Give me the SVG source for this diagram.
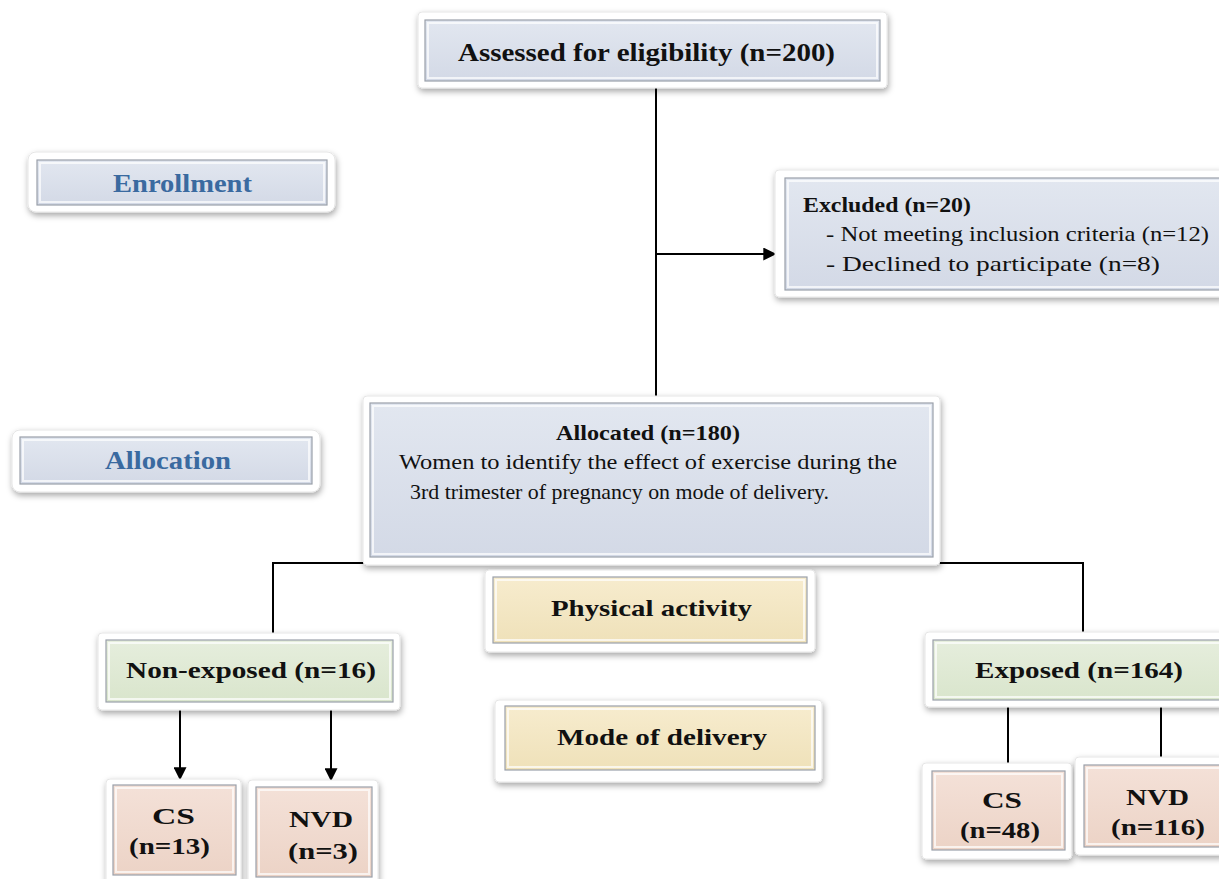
<svg xmlns="http://www.w3.org/2000/svg" width="1219" height="879" viewBox="0 0 1219 879">
<defs>
<filter id="sh" x="-10%" y="-20%" width="120%" height="150%">
<feDropShadow dx="1" dy="3" stdDeviation="3" flood-color="#000" flood-opacity="0.35"/>
</filter>
<linearGradient id="gBlue" x1="0" y1="0" x2="0" y2="1">
<stop offset="0" stop-color="#e2e7f0"/><stop offset="1" stop-color="#d3d9e6"/>
</linearGradient>
<linearGradient id="gGreen" x1="0" y1="0" x2="0" y2="1">
<stop offset="0" stop-color="#e6eedd"/><stop offset="1" stop-color="#d9e5cc"/>
</linearGradient>
<linearGradient id="gYel" x1="0" y1="0" x2="0" y2="1">
<stop offset="0" stop-color="#f7ecce"/><stop offset="1" stop-color="#efe1b9"/>
</linearGradient>
<linearGradient id="gPink" x1="0" y1="0" x2="0" y2="1">
<stop offset="0" stop-color="#f4e1d8"/><stop offset="1" stop-color="#ecd3c6"/>
</linearGradient>
<marker id="arrL" viewBox="0 0 10 10" refX="9" refY="5" markerWidth="13" markerHeight="13" orient="auto" markerUnits="userSpaceOnUse">
<path d="M0,0 L10,5 L0,10 z" fill="#000"/>
</marker>
</defs>
<style>
.frame{fill:#fff;stroke:#e6e6e6;stroke-width:1;filter:url(#sh)}
.in{stroke:#9aa0aa;stroke-width:1.2}
.blue{fill:url(#gBlue)}
.green{fill:url(#gGreen)}
.yel{fill:url(#gYel)}
.pink{fill:url(#gPink)}
.hl{fill:none;stroke:#ffffff;stroke-opacity:0.7;stroke-width:2}
text{font-family:"Liberation Serif","Times New Roman","DejaVu Serif",serif}
.t{fill:#111}
.b{font-weight:bold}
.lab{font-weight:bold;fill:#3a6aa0;font-size:25px}
.ln{stroke:#000;stroke-width:2;fill:none}
</style>
<rect width="1219" height="879" fill="#fff"/>

<g id="connectors">
<path class="ln" d="M656,88 V397"/>
<path class="ln" d="M656,254 H775" marker-end="url(#arrL)"/>
<path class="ln" d="M364,563 H273 V633"/>
<path class="ln" d="M939,563 H1083 V632"/>
<path class="ln" d="M180,710 V779" marker-end="url(#arrL)"/>
<path class="ln" d="M331,710 V780" marker-end="url(#arrL)"/>
<path class="ln" d="M1008,707 V764"/>
<path class="ln" d="M1161,707 V758"/>
</g>

<g id="assessed">
<rect class="frame" x="418" y="12" width="469" height="76" rx="4"/>
<rect class="in blue" x="425" y="20" width="455" height="61"/>
<rect class="hl" x="428" y="23" width="449" height="55"/>
<text class="t b" x="458" y="61" font-size="26" textLength="377" lengthAdjust="spacingAndGlyphs">Assessed for eligibility (n=200)</text>
</g>

<g id="enrollment">
<rect class="frame" x="28" y="152" width="307" height="60" rx="8"/>
<rect class="in blue" x="37" y="160" width="290" height="45"/>
<rect class="hl" x="40" y="163" width="284" height="39"/>
<text class="lab" x="113" y="192" textLength="139" lengthAdjust="spacingAndGlyphs">Enrollment</text>
</g>

<g id="allocation">
<rect class="frame" x="12" y="430" width="308" height="62" rx="8"/>
<rect class="in blue" x="20" y="437" width="292" height="47"/>
<rect class="hl" x="23" y="440" width="286" height="41"/>
<text class="lab" x="105" y="469" textLength="126" lengthAdjust="spacingAndGlyphs">Allocation</text>
</g>

<g id="excluded">
<rect class="frame" x="775" y="170" width="450" height="127" rx="4"/>
<rect class="in blue" x="785" y="178" width="440" height="112"/>
<rect class="hl" x="788" y="181" width="440" height="106"/>
<text class="t b" x="803" y="212" font-size="22" textLength="168" lengthAdjust="spacingAndGlyphs">Excluded (n=20)</text>
<text class="t" x="826" y="241" font-size="22" textLength="383" lengthAdjust="spacingAndGlyphs">-  Not meeting inclusion criteria (n=12)</text>
<text class="t" x="826" y="271" font-size="22" textLength="334" lengthAdjust="spacingAndGlyphs">-  Declined to participate (n=8)</text>
</g>

<g id="allocated">
<rect class="frame" x="363" y="396" width="577" height="169" rx="4"/>
<rect class="in blue" x="370" y="403" width="563" height="154"/>
<rect class="hl" x="373" y="406" width="557" height="148"/>
<text class="t b" x="556" y="440" font-size="21" textLength="184" lengthAdjust="spacingAndGlyphs">Allocated (n=180)</text>
<text class="t" x="399" y="469" font-size="21" textLength="498" lengthAdjust="spacingAndGlyphs">Women to identify the effect of exercise during the</text>
<text class="t" x="410" y="499" font-size="21" textLength="419" lengthAdjust="spacingAndGlyphs">3rd trimester of pregnancy on mode of delivery.</text>
</g>

<g id="physical">
<rect class="frame" x="485" y="570" width="330" height="82" rx="4"/>
<rect class="in yel" x="493" y="577" width="314" height="66"/>
<rect class="hl" x="496" y="580" width="308" height="60"/>
<text class="t b" x="551" y="616" font-size="24" textLength="201" lengthAdjust="spacingAndGlyphs">Physical activity</text>
</g>

<g id="mode">
<rect class="frame" x="495" y="700" width="327" height="82" rx="4"/>
<rect class="in yel" x="505" y="706" width="310" height="64"/>
<rect class="hl" x="508" y="709" width="304" height="58"/>
<text class="t b" x="557" y="745" font-size="24" textLength="210" lengthAdjust="spacingAndGlyphs">Mode of delivery</text>
</g>

<g id="nonexposed">
<rect class="frame" x="98" y="633" width="302" height="77" rx="4"/>
<rect class="in green" x="106" y="640" width="287" height="62"/>
<rect class="hl" x="109" y="643" width="281" height="56"/>
<text class="t b" x="126" y="678" font-size="24" textLength="250" lengthAdjust="spacingAndGlyphs">Non-exposed (n=16)</text>
</g>

<g id="exposed">
<rect class="frame" x="925" y="632" width="300" height="75" rx="4"/>
<rect class="in green" x="933" y="640" width="292" height="60"/>
<rect class="hl" x="936" y="643" width="292" height="54"/>
<text class="t b" x="975" y="678" font-size="24" textLength="208" lengthAdjust="spacingAndGlyphs">Exposed (n=164)</text>
</g>

<g id="cs13">
<rect class="frame" x="106" y="779" width="135" height="105" rx="4"/>
<rect class="in pink" x="113" y="785" width="123" height="90"/>
<rect class="hl" x="116" y="788" width="117" height="84"/>
<text class="t b" x="152" y="824" font-size="24" textLength="43" lengthAdjust="spacingAndGlyphs">CS</text>
<text class="t b" x="129" y="854" font-size="24" textLength="81" lengthAdjust="spacingAndGlyphs">(n=13)</text>
</g>

<g id="nvd3">
<rect class="frame" x="248" y="780" width="130" height="104" rx="4"/>
<rect class="in pink" x="256" y="787" width="116" height="90"/>
<rect class="hl" x="259" y="790" width="110" height="84"/>
<text class="t b" x="289" y="827" font-size="24" textLength="64" lengthAdjust="spacingAndGlyphs">NVD</text>
<text class="t b" x="288" y="859" font-size="24" textLength="70" lengthAdjust="spacingAndGlyphs">(n=3)</text>
</g>

<g id="cs48">
<rect class="frame" x="922" y="763" width="150" height="96" rx="4"/>
<rect class="in pink" x="932" y="771" width="133" height="79"/>
<rect class="hl" x="935" y="774" width="127" height="73"/>
<text class="t b" x="982" y="808" font-size="24" textLength="40" lengthAdjust="spacingAndGlyphs">CS</text>
<text class="t b" x="960" y="838" font-size="24" textLength="80" lengthAdjust="spacingAndGlyphs">(n=48)</text>
</g>

<g id="nvd116">
<rect class="frame" x="1075" y="757" width="150" height="98" rx="4"/>
<rect class="in pink" x="1084" y="765" width="141" height="82"/>
<rect class="hl" x="1087" y="768" width="141" height="76"/>
<text class="t b" x="1126" y="805" font-size="24" textLength="63" lengthAdjust="spacingAndGlyphs">NVD</text>
<text class="t b" x="1111" y="835" font-size="24" textLength="94" lengthAdjust="spacingAndGlyphs">(n=116)</text>
</g>
</svg>
